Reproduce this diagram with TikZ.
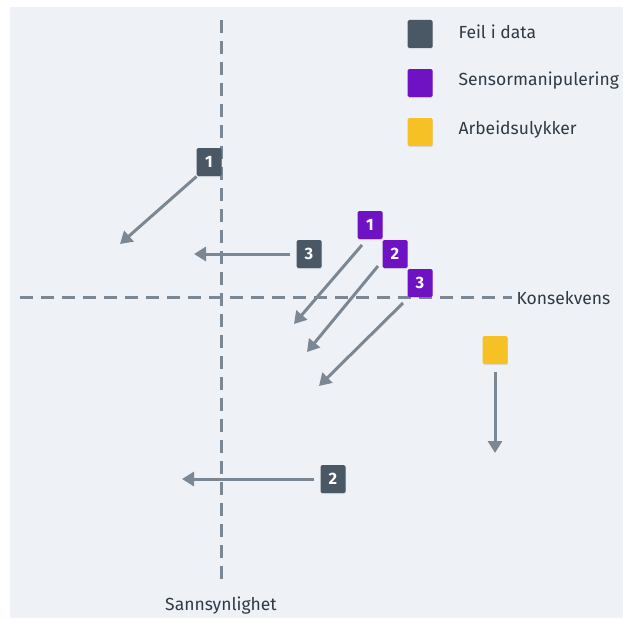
\documentclass[tikz,border=0pt]{standalone}
\usepackage{fontspec}
\setmainfont{Fira Sans}
\usetikzlibrary{arrows.meta,shadows}
\definecolor{panel}{HTML}{EEF2F6}
\definecolor{axisgrey}{HTML}{7B8894}
\definecolor{inkgrey}{HTML}{2F3A45}
\definecolor{slate}{HTML}{4A5866}
\definecolor{violet}{HTML}{6E12C4}
\definecolor{amber}{HTML}{F6C125}
\tikzset{
  axisline/.style={draw=axisgrey, line width=3pt, dash pattern=on 13pt off 8pt},
  marker/.style={fill=#1, rounded corners=1.5pt, minimum width=25pt, minimum height=28pt,
    inner sep=0pt, text=white, font=\fontsize{16.5}{16.5}\selectfont\bfseries,
    drop shadow={opacity=0.18, shadow xshift=0.6pt, shadow yshift=-1.2pt}},
  move/.style={draw=axisgrey, line width=3pt, -{Triangle[length=12pt,width=14pt]}},
  label/.style={text=inkgrey, font=\fontsize{17.5}{20}\selectfont},
}
\begin{document}
\begin{tikzpicture}[x=1pt, y=-1pt]
  % canvas and panel
  \fill[white] (0,0) rectangle (623,618);
  \fill[panel] (10,7) rectangle (623,618);
  \useasboundingbox (0,0) rectangle (623,618);

  % axes
  \coordinate (vtop) at (221,20);
  \coordinate (vbot) at (221,585);
  \coordinate (hleft) at (20,297);
  \coordinate (hright) at (512,297);
  \draw[axisline] (vtop) -- (vbot);
  \draw[axisline] (hleft) -- (hright);
  \node[label, anchor=west] (kons) at (513,298) {Konsekvens};
  \node[label] (sann) at (221,606) {Sannsynlighet};

  % legend
  \node[marker=slate] (lg1) at (420,34) {};
  \node[marker=violet] (lg2) at (420,83) {};
  \node[marker=amber] (lg3) at (420,132) {};
  \node[label, anchor=west] (lt1) at (455,32) {Feil i data};
  \node[label, anchor=west] (lt2) at (455,81) {Sensormanipulering};
  \node[label, anchor=west] (lt3) at (455,130) {Arbeidsulykker};

  % arrow targets and start points
  \coordinate (d1e) at (120,244);
  \coordinate (d3e) at (194,254);
  \coordinate (d2e) at (182,479);
  \coordinate (p1s) at (362,245);
  \coordinate (p1e) at (294,324);
  \coordinate (p2s) at (378,266);
  \coordinate (p2e) at (307,352);
  \coordinate (p3s) at (403,303);
  \coordinate (p3e) at (319,386);
  \coordinate (ye) at (495,453);

  % arrows
  \draw[move] (209,162) ++(-12.5,14.5) coordinate (d1s) -- (d1e);
  \draw[move] (p1s) -- (p1e);
  \draw[move] (p2s) -- (p2e);
  \draw[move] (p3s) -- (p3e);

  % markers
  \node[marker=slate] (d1) at (209,162) {1};
  \node[marker=slate] (d3) at (309,254) {3};
  \node[marker=slate] (d2) at (333,479) {2};
  \node[marker=violet] (p1) at (370,225) {1};
  \node[marker=violet] (p2) at (395,254) {2};
  \node[marker=violet] (p3) at (420,283) {3};
  \node[marker=amber] (yl) at (495,350) {};

  \draw[move, shorten <=6pt] (d3.west) -- (d3e);
  \draw[move, shorten <=6pt] (d2.west) -- (d2e);
  \draw[move, shorten <=8pt] (yl.south) -- (ye);
\end{tikzpicture}
\end{document}
